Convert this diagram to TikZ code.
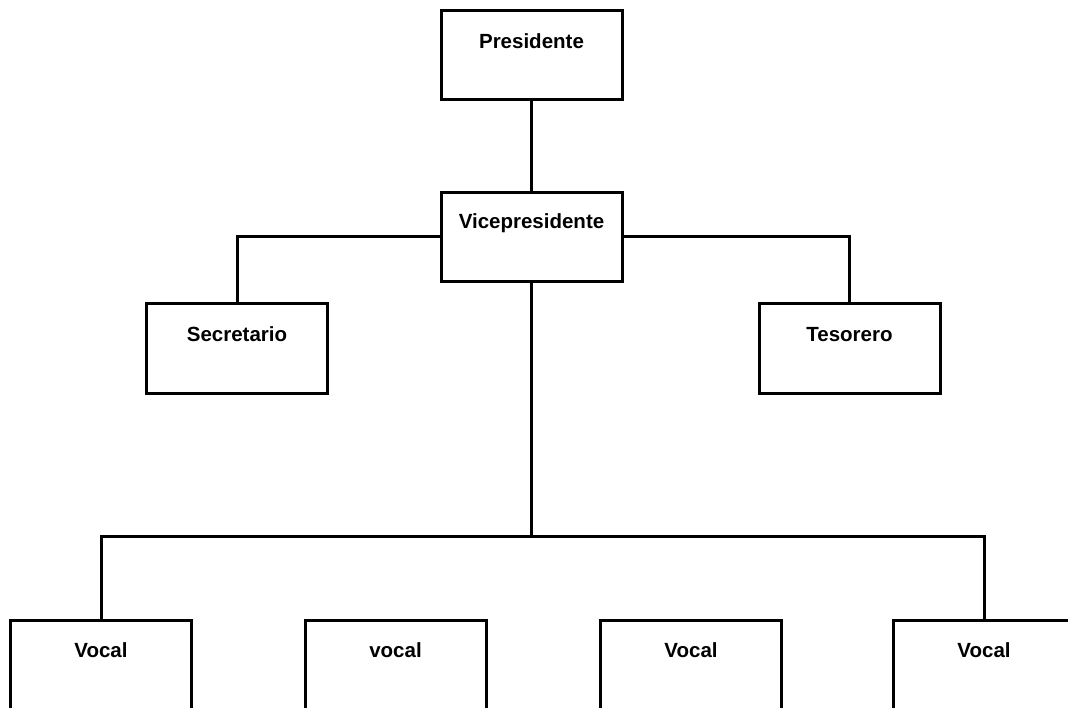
\documentclass[tikz,border=0pt]{standalone}
\usepackage{fontspec}
\setmainfont{Liberation Sans}
\begin{document}
\begin{tikzpicture}[x=1pt,y=-1pt,
  box/.style={draw=black,line width=3pt,rectangle,minimum width=181pt,minimum height=89pt,inner sep=0pt},
  lbl/.style={anchor=center,yshift=-32pt,font=\fontsize{20.5}{24}\selectfont\bfseries,inner sep=0pt},
  conn/.style={draw=black,line width=3pt}]
\useasboundingbox (0,0) rectangle (1068,708);
\clip (0,0) rectangle (1068,708);
\node[box,label={[lbl]north:Presidente}] (pres) at (531.5,55.5) {};
\node[box,label={[lbl]north:Vicepresidente}] (vice) at (531.5,237) {};
\node[box,label={[lbl]north:Secretario}] (sec) at (237,348.5) {};
\node[box,label={[lbl]north:Tesorero}] (tes) at (849.5,348.5) {};
\node[box,label={[lbl]north:Vocal}] (v1) at (101,664.5) {};
\node[box,label={[lbl]north:vocal}] (v2) at (395.5,664.5) {};
\node[box,label={[lbl]north:Vocal}] (v3) at (691,664.5) {};
\node[box,label={[lbl]north:Vocal}] (v4) at (984,664.5) {};
\coordinate (bus) at (531.5,536);
\path[conn] (pres) -- (vice);
\path[conn] (vice.west) -| (sec.north);
\path[conn] (vice.east) -| (tes.north);
\path[conn] (vice) -- (bus);
\path[conn] (v1.north) |- (bus) -| (v4.north);
\end{tikzpicture}
\end{document}
